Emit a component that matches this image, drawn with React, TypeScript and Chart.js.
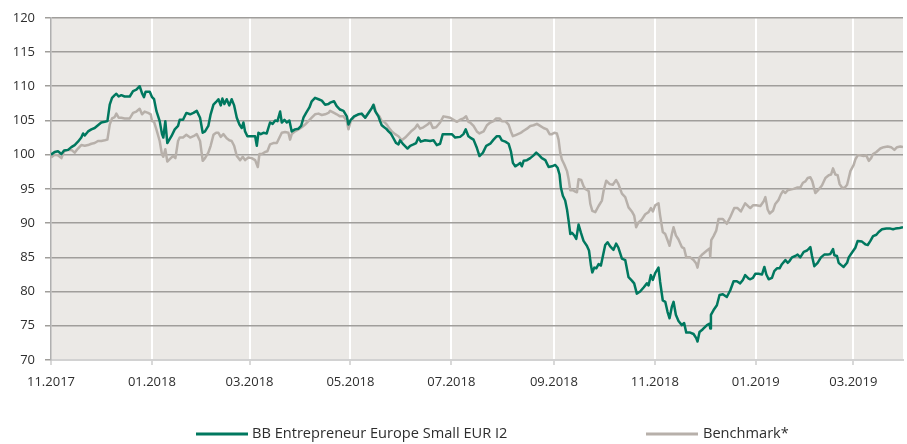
import React, { useEffect, useRef } from 'react';
import { Chart, registerables } from 'chart.js';

Chart.register(...registerables);

// x values are days since 1 Nov 2017
const monthTickDays = [0, 61, 120, 181, 242, 304, 365, 426, 485];
const monthTickLabels = ['11.2017', '01.2018', '03.2018', '05.2018', '07.2018', '09.2018', '11.2018', '01.2019', '03.2019'];
const seriesNames = ['BB Entrepreneur Europe Small EUR I2', 'Benchmark*'];

const fundPoints: [number, number][] = [
  [0, 100.0], [2.2, 100.4], [4.2, 100.5], [6.3, 100.1], [7.9, 100.6], [10.3, 100.7], [12.3, 101.1], [14.3, 101.4],
  [16.3, 101.9], [18.3, 102.5], [19.4, 103.1], [20.4, 102.8], [22.4, 103.4], [24.4, 103.7], [26.4, 103.9], [28.4, 104.3],
  [30.4, 104.7], [32.5, 104.8], [34.1, 104.9], [35.5, 107.3], [36.9, 108.3], [38.5, 108.7], [39.5, 108.9], [40.9, 108.5],
  [42.5, 108.7], [44.5, 108.5], [47.6, 108.5], [49.6, 109.3], [51.6, 109.5], [53.6, 110.0], [55.0, 109.0], [56.2, 108.4],
  [57.2, 109.2], [59.7, 109.2], [61.1, 108.4], [62.3, 108.1], [63.7, 106.4], [65.7, 104.9], [67.1, 103.0], [67.9, 102.5],
  [69.1, 104.9], [70.3, 101.7], [72.8, 102.7], [74.8, 103.7], [76.8, 104.2], [77.8, 105.1], [79.8, 105.1], [81.8, 106.1],
  [84.1, 105.9], [86.1, 106.1], [88.1, 106.4], [90.1, 105.4], [91.7, 103.2], [93.1, 103.4], [95.1, 104.2], [96.5, 105.9],
  [98.2, 107.3], [99.8, 107.7], [101.2, 108.1], [102.6, 107.2], [103.6, 108.2], [104.8, 107.4], [106.2, 108.1], [107.8, 107.2],
  [109.2, 108.1], [110.7, 107.2], [112.3, 105.4], [113.9, 104.4], [115.3, 103.9], [116.3, 104.7], [117.3, 103.4], [118.7, 102.7],
  [121.3, 102.7], [123.4, 102.7], [124.4, 101.3], [125.4, 103.2], [126.8, 103.0], [128.4, 103.2], [130.4, 103.1], [132.4, 104.7],
  [134.0, 104.5], [135.5, 105.0], [136.9, 104.9], [138.5, 106.3], [139.5, 104.7], [141.1, 105.1], [142.5, 104.7], [144.1, 105.0],
  [145.5, 103.4], [147.5, 103.7], [149.6, 103.8], [151.2, 104.2], [152.6, 105.4], [154.2, 106.1], [156.2, 106.9], [157.6, 107.8],
  [159.6, 108.3], [161.7, 108.1], [163.7, 107.9], [165.7, 107.3], [167.7, 107.4], [168.7, 107.6], [171.1, 107.8], [172.7, 107.1],
  [174.7, 106.6], [176.8, 106.4], [178.8, 105.6], [179.8, 104.4], [181.2, 105.1], [183.2, 105.6], [185.8, 105.9], [187.8, 106.0],
  [189.9, 105.4], [191.9, 106.1], [193.9, 106.8], [194.9, 107.3], [195.9, 106.4], [197.9, 105.6], [198.9, 104.9], [199.9, 104.3],
  [201.4, 104.0], [202.6, 103.8], [204.0, 103.4], [205.4, 103.1], [207.0, 102.4], [208.6, 101.7], [210.0, 101.5], [211.0, 102.1],
  [213.0, 101.5], [215.5, 100.9], [217.1, 101.3], [219.1, 101.5], [220.7, 101.7], [222.1, 102.5], [223.5, 101.9], [226.1, 102.1],
  [229.2, 102.0], [231.2, 102.1], [233.2, 101.4], [235.2, 101.6], [236.8, 103.0], [239.2, 103.0], [242.3, 103.0], [244.3, 102.5],
  [247.3, 102.6], [249.3, 103.0], [250.7, 103.7], [252.3, 102.7], [253.4, 102.5], [255.4, 102.2], [257.4, 101.0], [259.0, 99.8],
  [261.1, 100.3], [263.1, 101.3], [265.5, 101.6], [267.5, 102.2], [269.5, 102.7], [271.1, 102.7], [272.5, 102.1], [274.6, 101.9],
  [276.6, 101.6], [278.0, 100.5], [279.2, 98.8], [280.6, 98.3], [282.6, 98.6], [283.6, 98.8], [284.6, 98.3], [285.7, 99.1],
  [287.7, 99.2], [289.7, 99.5], [291.7, 99.9], [293.3, 100.3], [294.7, 100.0], [296.7, 99.5], [298.8, 99.2], [300.8, 98.2],
  [302.8, 98.3], [304.8, 98.5], [306.2, 98.1], [307.4, 97.1], [308.2, 95.2], [309.4, 94.0], [310.8, 93.3], [311.9, 92.0],
  [312.9, 90.3], [313.9, 88.4], [314.9, 88.6], [316.3, 88.2], [317.5, 87.7], [318.9, 89.8], [320.3, 88.6], [321.9, 87.4],
  [323.9, 86.7], [325.2, 86.0], [326.4, 83.8], [327.2, 82.8], [328.4, 83.5], [329.6, 83.4], [331.0, 84.0], [332.4, 83.8],
  [333.6, 85.2], [335.0, 86.8], [336.4, 87.2], [338.0, 86.6], [340.0, 86.1], [341.6, 87.0], [343.0, 86.4], [345.1, 84.8],
  [347.1, 84.6], [349.1, 82.1], [351.1, 81.6], [352.5, 81.2], [354.1, 79.7], [356.1, 80.0], [358.2, 80.6], [360.2, 81.2],
  [361.2, 80.9], [362.6, 82.4], [363.8, 81.7], [365.2, 82.7], [367.2, 83.5], [368.2, 81.4], [369.8, 78.7], [371.3, 78.5],
  [372.7, 77.0], [373.9, 76.1], [375.3, 77.8], [376.3, 78.5], [377.7, 76.6], [379.3, 75.7], [381.3, 75.1], [382.7, 75.4],
  [384.0, 74.0], [386.4, 74.0], [388.4, 73.8], [390.0, 73.2], [390.8, 72.7], [392.0, 74.1], [394.0, 74.5], [396.5, 75.1],
  [398.1, 75.3], [398.5, 74.6], [398.9, 76.6], [400.5, 77.3], [402.5, 78.0], [404.1, 79.5], [406.1, 79.6], [408.5, 79.2],
  [410.6, 80.2], [412.6, 81.5], [414.6, 81.5], [416.6, 81.2], [418.2, 81.7], [419.6, 82.4], [421.7, 81.9], [422.7, 81.8],
  [424.3, 82.0], [425.7, 82.6], [427.7, 82.6], [429.8, 82.5], [431.2, 83.6], [432.4, 82.5], [433.8, 81.8], [435.8, 82.0],
  [437.2, 83.0], [438.8, 83.4], [440.4, 83.4], [441.8, 84.0], [443.9, 84.6], [445.3, 84.2], [446.5, 84.5], [447.9, 85.0],
  [449.9, 85.2], [451.3, 85.4], [452.9, 85.0], [455.0, 85.8], [457.0, 86.0], [459.0, 86.5], [460.0, 85.2], [461.4, 83.7],
  [463.4, 84.2], [465.4, 85.0], [467.4, 85.4], [469.5, 85.4], [471.1, 85.5], [472.7, 86.2], [473.5, 85.3], [475.1, 85.2],
  [476.1, 84.2], [477.5, 83.9], [479.1, 83.6], [481.2, 84.2], [482.2, 85.0], [484.2, 85.7], [486.2, 86.4], [487.6, 87.4],
  [490.2, 87.3], [492.2, 86.9], [493.7, 86.8], [495.3, 87.4], [496.9, 88.1], [498.9, 88.3], [500.3, 88.7], [502.3, 89.1],
  [504.9, 89.2], [507.4, 89.2], [509.0, 89.1], [510.4, 89.2], [513.0, 89.3], [515.0, 89.4],
];

const benchPoints: [number, number][] = [
  [0, 99.6], [2.2, 100.0], [4.2, 99.9], [6.3, 99.5], [7.9, 100.5], [10.3, 100.7], [12.3, 100.7], [14.3, 100.3],
  [16.3, 100.9], [18.3, 101.4], [20.4, 101.3], [22.4, 101.4], [24.4, 101.6], [26.4, 101.7], [28.4, 102.0], [30.4, 102.0],
  [32.5, 102.1], [34.1, 102.2], [35.5, 104.4], [36.9, 105.3], [38.5, 105.5], [39.5, 106.0], [40.9, 105.4], [42.5, 105.4],
  [44.5, 105.3], [47.6, 105.3], [49.6, 106.1], [51.6, 106.3], [53.6, 106.7], [55.0, 105.9], [56.6, 106.3], [58.7, 106.1],
  [60.3, 105.9], [61.1, 104.9], [62.3, 104.8], [63.7, 103.7], [65.7, 102.0], [67.1, 100.0], [67.9, 99.7], [69.1, 100.8],
  [70.3, 99.0], [72.4, 99.5], [73.8, 99.8], [75.2, 99.5], [76.8, 102.0], [77.8, 102.5], [79.8, 102.5], [81.8, 102.9],
  [84.1, 102.5], [86.1, 102.7], [88.1, 103.0], [90.1, 102.0], [91.7, 99.1], [93.1, 99.5], [95.1, 100.3], [96.5, 101.3],
  [98.2, 102.9], [99.8, 103.2], [101.2, 103.2], [102.6, 102.6], [104.2, 103.0], [106.2, 102.4], [107.8, 102.1], [109.2, 102.0],
  [110.7, 101.3], [112.3, 99.8], [114.3, 99.2], [115.9, 99.7], [117.3, 99.2], [119.3, 99.6], [121.3, 99.5], [123.4, 99.2],
  [125.0, 98.2], [126.0, 100.1], [127.4, 100.1], [129.4, 100.4], [130.8, 100.5], [132.4, 101.5], [134.4, 101.7], [136.5, 101.7],
  [138.1, 102.5], [139.5, 103.2], [141.5, 103.3], [143.5, 103.2], [144.5, 102.2], [145.5, 103.0], [147.5, 103.4], [149.6, 103.7],
  [151.6, 104.0], [153.6, 104.4], [155.6, 104.9], [157.6, 105.4], [159.6, 105.9], [161.7, 106.0], [163.7, 105.8], [165.7, 105.9],
  [167.7, 106.1], [168.7, 106.4], [171.1, 106.1], [172.7, 105.9], [174.7, 105.6], [176.8, 105.6], [178.8, 104.9], [179.8, 103.7],
  [181.2, 104.9], [183.2, 105.5], [185.8, 105.9], [187.8, 105.9], [189.9, 105.4], [191.9, 106.1], [193.9, 106.8], [195.3, 107.2],
  [196.5, 106.1], [198.5, 105.6], [199.9, 104.9], [201.4, 104.8], [203.0, 104.4], [204.6, 103.8], [206.0, 103.4], [208.0, 103.0],
  [210.0, 102.7], [212.0, 102.1], [214.1, 102.5], [216.1, 103.0], [218.1, 103.5], [220.1, 103.9], [221.5, 104.4], [223.1, 103.8],
  [225.1, 104.0], [227.6, 104.4], [229.2, 104.8], [230.8, 103.9], [232.8, 104.0], [235.2, 104.7], [237.2, 105.6], [239.2, 105.5],
  [241.3, 105.4], [243.3, 105.1], [245.3, 104.8], [247.3, 105.1], [249.3, 105.3], [250.9, 105.6], [252.3, 104.8], [253.4, 104.7],
  [255.4, 104.2], [257.4, 103.4], [259.0, 103.1], [261.5, 103.4], [263.5, 104.3], [265.5, 104.7], [267.5, 104.9], [269.1, 105.3],
  [271.1, 105.3], [272.5, 104.9], [274.6, 104.9], [276.6, 104.4], [278.0, 103.4], [279.2, 102.7], [281.2, 102.9], [283.2, 103.1],
  [284.6, 103.3], [285.7, 103.5], [287.7, 103.8], [289.7, 104.2], [291.7, 104.3], [293.7, 104.5], [295.7, 104.2], [297.7, 103.9],
  [299.8, 103.7], [301.4, 103.0], [302.8, 103.0], [304.2, 103.2], [305.8, 103.1], [306.8, 102.2], [307.8, 100.3], [308.8, 99.3],
  [310.2, 98.6], [311.9, 97.6], [312.9, 96.4], [313.9, 94.8], [315.5, 94.8], [316.9, 94.6], [317.9, 94.5], [318.9, 96.4],
  [320.5, 96.3], [321.9, 95.4], [322.9, 95.0], [325.0, 94.7], [326.0, 92.8], [327.2, 91.8], [329.0, 91.6], [331.0, 92.5],
  [333.0, 93.3], [334.0, 94.7], [335.6, 96.2], [337.7, 95.7], [339.6, 95.6], [341.6, 96.3], [343.0, 95.7], [345.1, 94.3],
  [347.1, 93.8], [349.1, 92.3], [351.1, 91.7], [352.5, 91.1], [353.7, 89.4], [355.1, 90.1], [357.1, 90.5], [359.2, 91.3],
  [361.2, 91.6], [362.6, 92.2], [363.8, 91.7], [365.2, 92.6], [367.2, 92.9], [368.2, 91.1], [369.8, 88.7], [371.3, 88.4],
  [372.7, 87.5], [373.9, 86.7], [375.3, 88.4], [376.3, 89.4], [377.7, 88.2], [379.3, 87.6], [381.3, 86.5], [382.7, 86.3],
  [384.0, 85.0], [386.4, 85.0], [388.4, 84.6], [390.0, 84.1], [390.8, 83.5], [392.0, 85.0], [394.0, 85.5], [396.5, 86.0],
  [398.1, 86.3], [398.5, 85.1], [399.1, 87.5], [400.5, 88.1], [402.1, 88.9], [403.5, 90.6], [406.1, 90.6], [408.5, 89.9],
  [410.6, 90.9], [413.0, 92.2], [415.0, 92.2], [417.0, 91.7], [419.6, 92.9], [421.7, 92.4], [422.7, 92.2], [424.3, 92.6],
  [426.3, 92.6], [428.8, 92.5], [430.8, 93.2], [431.8, 93.8], [433.2, 92.0], [434.4, 91.4], [436.4, 91.8], [437.8, 92.8],
  [439.8, 93.4], [441.2, 94.2], [442.5, 94.7], [443.9, 94.4], [445.3, 94.8], [446.9, 94.9], [448.9, 95.0], [450.9, 95.2],
  [452.9, 95.2], [454.5, 95.9], [456.0, 96.1], [457.4, 96.6], [459.0, 96.7], [460.2, 96.1], [462.0, 94.4], [464.0, 94.9],
  [466.0, 95.5], [468.1, 96.6], [470.1, 97.0], [471.5, 97.1], [472.7, 98.0], [474.1, 97.1], [475.5, 97.0], [476.7, 95.7],
  [478.1, 95.2], [479.5, 95.1], [481.2, 95.6], [482.2, 96.6], [483.2, 97.6], [485.2, 98.5], [486.2, 99.3], [487.6, 99.9],
  [489.2, 99.9], [491.2, 99.8], [492.8, 99.9], [494.3, 99.1], [495.7, 99.5], [496.9, 100.1], [498.9, 100.4], [501.3, 100.9],
  [503.3, 101.1], [505.7, 101.2], [507.8, 101.1], [509.8, 100.7], [511.4, 101.1], [513.4, 101.2], [515.0, 101.1],
];

const FONT = "'Open Sans', 'Noto Sans', sans-serif";
const GREEN = '#00785f';
const GREY = '#b7b0aa';

const plotBackground = {
  id: 'plotBackground',
  beforeDraw(chart: any) {
    const { ctx, chartArea } = chart;
    ctx.save();
    ctx.fillStyle = '#ebe9e6';
    ctx.fillRect(chartArea.left, chartArea.top, chartArea.right - chartArea.left, chartArea.bottom - chartArea.top);
    ctx.restore();
  },
};

const bottomLegend = {
  id: 'bottomLegend',
  afterDraw(chart: any) {
    const { ctx } = chart;
    const items = [
      { color: GREEN, lineX: 196, textX: 252 },
      { color: GREY, lineX: 646, textX: 703 },
    ];
    const y = 434;
    ctx.save();
    items.forEach((it, i) => {
      ctx.strokeStyle = it.color;
      ctx.lineWidth = 3;
      ctx.beginPath();
      ctx.moveTo(it.lineX, y);
      ctx.lineTo(it.lineX + 52, y);
      ctx.stroke();
      ctx.fillStyle = '#2e2e2e';
      ctx.font = `14.6px ${FONT}`;
      ctx.textBaseline = 'middle';
      ctx.textAlign = 'left';
      ctx.fillText(seriesNames[i], it.textX, y);
    });
    ctx.restore();
  },
};

export default function App() {
  const canvasRef = useRef<HTMLCanvasElement | null>(null);

  useEffect(() => {
    if (!canvasRef.current) return;
    const chart = new Chart(canvasRef.current, {
      type: 'line',
      data: {
        datasets: [
          {
            label: seriesNames[0],
            data: fundPoints.map(([x, y]) => ({ x, y })),
            borderColor: GREEN,
            borderWidth: 2.5,
            pointRadius: 0,
            tension: 0,
            borderJoinStyle: 'round',
          },
          {
            label: seriesNames[1],
            data: benchPoints.map(([x, y]) => ({ x, y })),
            borderColor: GREY,
            borderWidth: 2.5,
            pointRadius: 0,
            tension: 0,
            borderJoinStyle: 'round',
          },
        ],
      },
      options: {
        responsive: false,
        animation: false,
        devicePixelRatio: 1,
        layout: { padding: { left: 0, top: 16, right: 4, bottom: 0 } },
        plugins: { legend: { display: false }, tooltip: { enabled: false } },
        scales: {
          x: {
            type: 'linear',
            min: 0,
            max: 515,
            afterFit: (scale: any) => { scale.height = 84; },
            afterBuildTicks: (scale: any) => { scale.ticks = monthTickDays.map((v) => ({ value: v })); },
            ticks: {
              autoSkip: false,
              maxRotation: 0,
              padding: 9,
              color: '#2e2e2e',
              font: { family: FONT, size: 13 },
              callback: (_v: any, i: number) => monthTickLabels[i],
            },
            grid: {
              color: (c: any) => (c.tick && c.tick.value === 0 ? 'rgba(0,0,0,0)' : '#ffffff'),
              lineWidth: 2,
              tickColor: '#cccccc',
              tickLength: 5,
              tickWidth: 1.5,
            },
            border: { display: true, color: '#d2d2d2', width: 2 },
          },
          y: {
            min: 70,
            max: 120,
            afterFit: (scale: any) => { scale.width = 51; },
            ticks: {
              stepSize: 5,
              padding: 10,
              color: '#2e2e2e',
              font: { family: FONT, size: 13 },
            },
            grid: {
              color: (c: any) => (c.tick && c.tick.value === 70 ? 'rgba(0,0,0,0)' : '#a09e9b'),
              lineWidth: 1.5,
              tickColor: '#a09e9b',
              tickLength: 6,
              tickWidth: 1.5,
            },
            border: { display: true, color: '#b0b0b0', width: 1.5 },
          },
        },
      },
      plugins: [plotBackground, bottomLegend],
    });
    return () => chart.destroy();
  }, []);

  return (
    <div style={{ position: 'absolute', left: 0, top: 0, width: 907, height: 444, background: '#ffffff' }}>
      <canvas ref={canvasRef} width={907} height={444} />
    </div>
  );
}
